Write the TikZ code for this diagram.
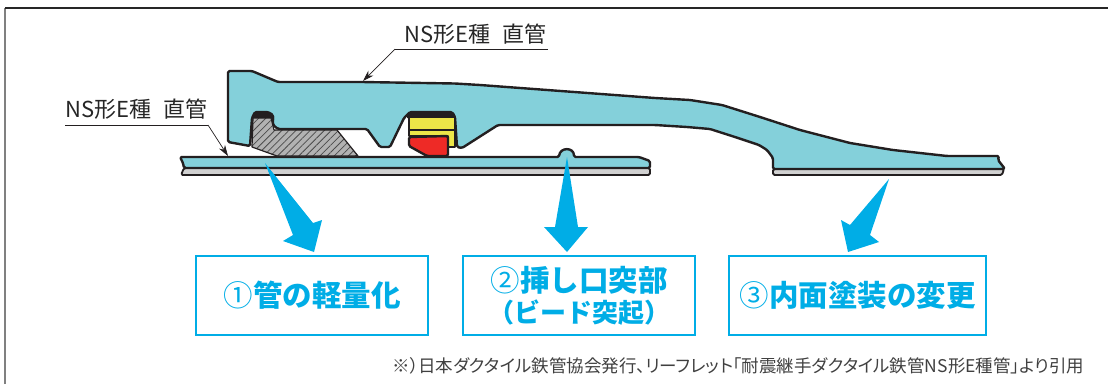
\documentclass[tikz,border=0pt]{standalone}
\usepackage{fontspec}
\setmainfont{Noto Sans CJK JP}
\newfontfamily\tightfont[RawFeature={+palt}]{Noto Sans CJK JP}
\usepackage{xcolor}
\usetikzlibrary{
    arrows.meta,
    patterns.meta
}
\definecolor{pipeteal}{HTML}{84D0DA}
\definecolor{callblue}{HTML}{00ADE6}
\definecolor{inkblack}{HTML}{231F20}
\definecolor{sealyellow}{HTML}{ECE648}
\definecolor{sealred}{HTML}{EE2A26}

\begin{document}
\begin{tikzpicture}[
    x=1pt,
    y=-1pt,
    outline/.style={
        draw=inkblack,
        line width=2.4pt,
        line join=round,
        rounded corners=1.5pt
    },
    pipebody/.style={outline, fill=pipeteal},
    strip/.style={outline, line width=1.8pt, fill=black!18},
    rubber/.style={
        draw=inkblack,
        line width=1.2pt,
        line join=round
    },
    resultbox/.style={
        rectangle,
        draw=callblue,
        line width=2.2pt,
        text=callblue,
        align=center,
        inner sep=0pt,
        minimum height=79pt,
        font=\fontsize{29.5}{33}\selectfont\bfseries
    },
    bigarrow/.style={fill=callblue},
    partlabel/.style={
        inner sep=0pt,
        text=black!85,
        font=\fontsize{22}{24}\selectfont
    },
    notetext/.style={
        inner sep=0pt,
        text=black!75,
        font=\tightfont\fontsize{17.5}{18}\selectfont
    },
    leader/.style={
        -{Stealth[length=11pt,width=7pt]},
        line width=0.7pt,
        inkblack
    }
]
\useasboundingbox (0,0) rectangle (1108,384);

% ===== FRAME =====
\coordinate (frameBL) at (5,384);
\coordinate (frameTL) at (5,8);
\coordinate (frameTR) at (1108,8);
\draw[line width=2pt, black!50] (frameBL) -- (frameTL);
\draw[line width=1.3pt, black!85] (frameTL) -- (frameTR);

% ===== SPIGOT =====
\draw[strip] (184,168) -- (650,168) -- (650,175) -- (181,175) -- cycle;
\draw[pipebody] (180,157) -- (559,157) .. controls (560,147) and (574,147) .. (574,157)
    -- (639,157) -- (650,161) -- (650,168) -- (184,168) -- (183,163) -- cycle;

% ===== SOCKET =====
\draw[strip] (773,169) -- (1004,169) -- (1002,175) -- (773,175) -- cycle;
\draw[pipebody] (228,71) -- (252,71) -- (278,82) -- (362,82) -- (455,83.5) -- (480,85)
    -- (655,98) -- (690,100) -- (722,105) -- (760,117) -- (800,130) -- (850,143)
    -- (893,150) -- (947,156) -- (999,156) -- (998,160) -- (1005,169) -- (773,169)
    -- (773,158) -- (767,150) -- (759,145) -- (735,137) -- (710,129) -- (687,127)
    -- (655,125) -- (498,125) -- (462,148) -- (457,147) -- (455,117) -- (452,112)
    -- (410,112) -- (404,118) -- (390,147) -- (380,147) -- (367,129) -- (278,129)
    -- (273,125) -- (273,115) -- (268,112) -- (255,112) -- (252,118) -- (250,146)
    -- (228,142) -- cycle;

% ===== SEAL =====
\fill[inkblack] (252,120) -- (254,112) -- (269,112) -- (274,116) -- (274,120) -- cycle;
\fill[black!30] (253,118) -- (271,118) -- (274,130) -- (337,130) -- (358,156) -- (277,156) -- (252,147) -- cycle;
\draw[rubber, pattern={Lines[angle=45,distance=5pt,line width=0.8pt]}, pattern color=black!70]
    (253,118) -- (271,118) -- (274,130) -- (337,130) -- (358,156) -- (277,156) -- (252,147) -- cycle;

% ===== GASKET =====
\fill[inkblack] (407,113) -- (454,113) -- (456,118) -- (407,118) -- cycle;
\draw[rubber, line width=1.6pt, fill=sealyellow] (409,117) -- (455,117) -- (455,147) -- (448,147) -- (448,136) -- (409,136) -- cycle;
\draw[outline] (409,130) -- (454,130);
\draw[outline, fill=sealred] (409,137) -- (448,136) -- (448,156) -- (427,156) -- (409,146) -- cycle;

% ===== PIPE LABELS =====
\node[partlabel, anchor=base west] (socketlabel) at (404,42) {NS形E種\hspace{12pt}直管};
\node[partlabel, anchor=base west] (spigotlabel) at (65,117) {NS形E種\hspace{12pt}直管};

\coordinate (socketbend) at (395,49);
\coordinate (socketend) at (548,49);
\coordinate (sockettip) at (363,81);
\coordinate (spigotstart) at (65,125);
\coordinate (spigotbend) at (208,125);
\coordinate (spigottip) at (228,156);
\draw[line width=0.7pt, inkblack] (socketend) -- (socketbend);
\draw[leader] (socketbend) -- (sockettip);
\draw[line width=0.7pt, inkblack] (spigotstart) -- (spigotbend);
\draw[leader] (spigotbend) -- (spigottip);

% ===== RESULT BOXES =====
\node[resultbox, minimum width=232pt] (lighter) at (312,295.5) {{\mdseries ①}管の軽量化};
\node[resultbox, minimum width=232pt] (bead) at (579,295.5) {{\mdseries ②}挿し口突部\\[-2pt]{\fontsize{26}{28}\selectfont （ビード突起）}};
\node[resultbox, minimum width=257pt] (coating) at (857.5,295.5) {{\mdseries ③}内面塗装の変更};

% ===== BLUE ARROWS =====
\coordinate (lightertail) at (265,163);
\coordinate (beadtail) at (567,157);
\coordinate (coatingtail) at (889,179);
\fill[bigarrow] (lightertail) -- (313,223) -- (322,220) -- (314,252) -- (283,241) -- (293,235) -- cycle;
\fill[bigarrow] (beadtail) -- (578,227) -- (588,227) -- (567,252) -- (544,227) -- (555,227) -- cycle;
\fill[bigarrow] (coatingtail) -- (870,235) -- (879,242) -- (848,252) -- (841,220) -- (850,225) -- cycle;

% ===== SOURCE NOTE =====
\node[notetext, anchor=base west] (sourcenote) at (392,372.5) {※）日本ダクタイル鉄管協会発行、リーフレット「耐震継手ダクタイル鉄管NS形E種管」より引用};

\end{tikzpicture}
\end{document}
